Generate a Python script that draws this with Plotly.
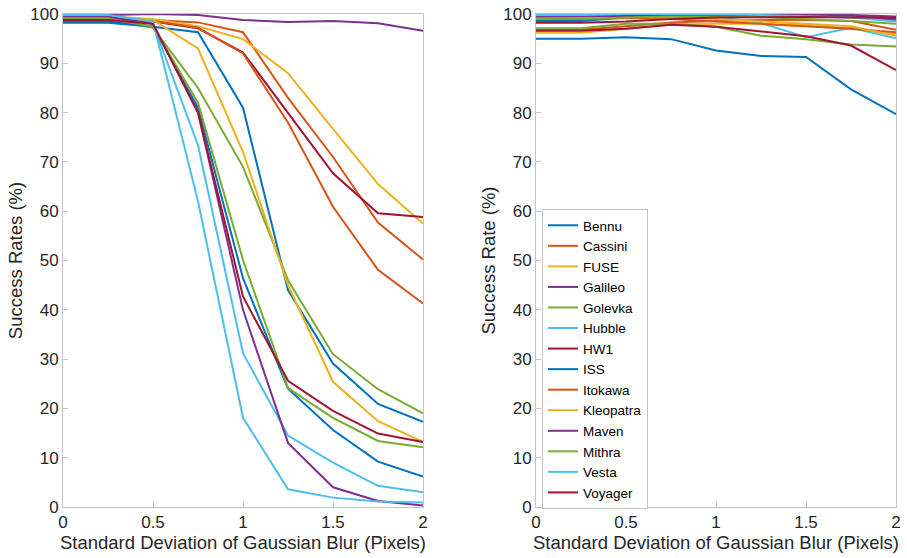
import plotly.graph_objects as go

# Blur levels (standard deviation of the Gaussian kernel, pixels)
sigma = [0, 0.25, 0.5, 0.75, 1.0, 1.25, 1.5, 1.75, 2.0]

names = ["Bennu", "Cassini", "FUSE", "Galileo", "Golevka", "Hubble", "HW1",
         "ISS", "Itokawa", "Kleopatra", "Maven", "Mithra", "Vesta", "Voyager"]

# Success rates (%) without blur-aware training
left_bennu = [98.2, 98.2, 97.4, 96.3, 81.0, 44.0, 29.1, 20.9, 17.3]
left_cassini = [99.0, 99.0, 98.8, 98.3, 96.3, 83.0, 71.0, 57.7, 50.2]
left_fuse = [99.5, 99.5, 99.0, 97.5, 94.9, 88.0, 76.7, 65.5, 57.5]
left_galileo = [99.8, 99.8, 100.0, 99.8, 98.8, 98.4, 98.6, 98.1, 96.6]
left_golevka = [99.0, 99.0, 97.2, 85.0, 69.0, 46.0, 31.0, 23.9, 19.0]
left_hubble = [99.5, 99.5, 98.0, 73.4, 31.2, 14.5, 9.0, 4.3, 3.0]
left_hw1 = [98.8, 98.8, 98.5, 97.1, 92.2, 80.0, 67.7, 59.6, 58.8]
left_iss = [98.5, 98.5, 97.5, 81.0, 46.4, 24.0, 15.6, 9.2, 6.2]
left_itokawa = [99.0, 99.0, 98.6, 97.2, 92.0, 78.0, 60.9, 48.1, 41.3]
left_kleopatra = [99.5, 99.5, 98.8, 93.0, 72.0, 45.0, 25.4, 17.4, 13.2]
left_maven = [99.5, 99.5, 98.0, 80.0, 40.0, 13.0, 4.0, 1.2, 0.3]
left_mithra = [99.0, 99.0, 97.5, 82.0, 50.1, 24.1, 18.1, 13.4, 12.1]
left_vesta = [99.8, 99.8, 98.5, 62.0, 18.1, 3.6, 1.9, 1.1, 0.9]
left_voyager = [98.8, 98.8, 98.0, 80.0, 42.7, 25.6, 19.5, 14.9, 13.2]

# Success rates (%) with blur-aware training
right_bennu = [98.6, 98.6, 99.3, 99.5, 99.6, 99.7, 99.7, 99.5, 98.8]
right_cassini = [96.8, 96.8, 97.5, 98.3, 98.6, 98.8, 98.8, 98.6, 96.8]
right_fuse = [96.2, 96.2, 97.0, 97.8, 98.0, 98.0, 97.8, 97.0, 95.9]
right_galileo = [99.7, 99.7, 99.8, 99.9, 99.9, 100.0, 99.9, 99.8, 99.5]
right_golevka = [97.1, 97.1, 98.0, 98.0, 97.4, 95.6, 94.9, 93.8, 93.4]
right_hubble = [99.7, 99.7, 99.8, 99.8, 99.5, 98.2, 95.3, 97.2, 95.1]
right_hw1 = [96.6, 96.6, 97.0, 97.8, 97.4, 96.5, 95.5, 93.6, 88.6]
right_iss = [95.0, 95.0, 95.3, 94.9, 92.6, 91.5, 91.3, 84.7, 79.7]
right_itokawa = [99.0, 99.0, 99.2, 99.0, 98.5, 98.0, 97.5, 97.0, 96.3]
right_kleopatra = [99.3, 99.3, 99.5, 99.3, 99.0, 98.5, 98.0, 97.5, 95.6]
right_maven = [99.5, 99.5, 99.6, 99.7, 99.8, 99.8, 99.7, 99.6, 99.0]
right_mithra = [99.0, 99.0, 99.3, 99.5, 99.5, 99.4, 99.0, 98.6, 98.0]
right_vesta = [99.8, 99.8, 100.0, 100.0, 100.0, 99.8, 99.6, 99.3, 98.5]
right_voyager = [98.2, 98.2, 98.5, 99.0, 99.3, 99.4, 99.4, 99.3, 99.3]

left_series = [left_bennu, left_cassini, left_fuse, left_galileo, left_golevka,
               left_hubble, left_hw1, left_iss, left_itokawa, left_kleopatra,
               left_maven, left_mithra, left_vesta, left_voyager]
right_series = [right_bennu, right_cassini, right_fuse, right_galileo, right_golevka,
                right_hubble, right_hw1, right_iss, right_itokawa, right_kleopatra,
                right_maven, right_mithra, right_vesta, right_voyager]

# MATLAB default colour order, cycled
palette = ["#0072BD", "#D95319", "#EDB120", "#7E2F8E", "#77AC30", "#4DBEEE", "#A2142F"]

x_ticks = [0, 0.5, 1, 1.5, 2]
x_ticktext = ["0", "0.5", "1", "1.5", "2"]
y_ticks = list(range(0, 101, 10))

W, H = 907, 558
FONT = "Liberation Sans, Arial, Helvetica, sans-serif"

fig = go.Figure()
for i, (name, vals) in enumerate(zip(names, left_series)):
    fig.add_trace(go.Scatter(x=sigma, y=vals, mode="lines", name=name,
                             line=dict(color=palette[i % 7], width=2),
                             xaxis="x", yaxis="y", showlegend=False))
for i, (name, vals) in enumerate(zip(names, right_series)):
    fig.add_trace(go.Scatter(x=sigma, y=vals, mode="lines", name=name,
                             line=dict(color=palette[i % 7], width=2),
                             xaxis="x2", yaxis="y2", showlegend=True))

axis_common = dict(
    showgrid=False, zeroline=False, showline=True, mirror=True,
    linecolor="#c4c4c4", linewidth=1, ticks="inside", ticklen=5,
    tickcolor="#c4c4c4", automargin=False,
    tickfont=dict(size=17, color="#262626", family=FONT),
)
title_font = dict(size=18.5, color="#262626", family=FONT)

y_dom = [1 - 507 / H, 1 - 14 / H]

fig.update_layout(
    width=W, height=H,
    margin=dict(l=0, r=0, t=0, b=0, autoexpand=False),
    paper_bgcolor="white", plot_bgcolor="white",
    font=dict(family=FONT, color="#262626"),
    xaxis=dict(domain=[63 / W, 423 / W], range=[0, 2], tickvals=x_ticks,
               ticktext=x_ticktext, anchor="y",
               title=dict(text="Standard Deviation of Gaussian Blur (Pixels)",
                          font=title_font, standoff=2),
               **axis_common),
    yaxis=dict(domain=y_dom, range=[0, 100], tickvals=y_ticks, anchor="x",
               title=dict(text="Success Rates (%)", font=title_font, standoff=2),
               **axis_common),
    xaxis2=dict(domain=[536 / W, 896 / W], range=[0, 2], tickvals=x_ticks,
                ticktext=x_ticktext, anchor="y2",
                title=dict(text="Standard Deviation of Gaussian Blur (Pixels)",
                           font=title_font, standoff=2),
                **axis_common),
    yaxis2=dict(domain=y_dom, range=[0, 100], tickvals=y_ticks, anchor="x2",
                title=dict(text="Success Rate (%)", font=title_font, standoff=2),
                **axis_common),
    legend=dict(x=542 / W, y=1 - 209 / H, xanchor="left", yanchor="top",
                bgcolor="white", bordercolor="#c4c4c4", borderwidth=1,
                font=dict(size=13.5, color="#000000", family=FONT),
                tracegroupgap=0, itemwidth=30),
)

fig.write_html("out.html")
